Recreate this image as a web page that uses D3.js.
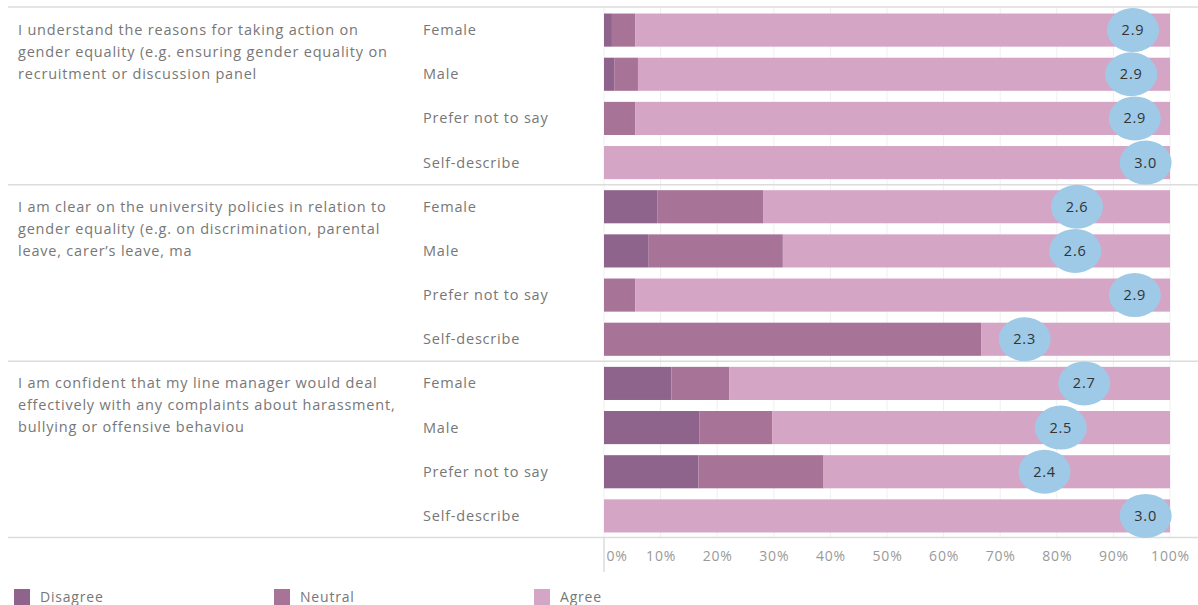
<!DOCTYPE html>
<html>
<head>
<meta charset="utf-8">
<script src="https://cdn.jsdelivr.net/npm/d3@7"></script>
<style>
  body { margin: 0; background: #fff; }
  text { font-family: "Open Sans", sans-serif; letter-spacing: 0.8px; }
</style>
</head>
<body>
<div id="chart"></div>
<script>
// questions (wrapped as in the reference)
const questions = [
  ["I understand the reasons for taking action on", "gender equality (e.g. ensuring gender equality on", "recruitment or discussion panel"],
  ["I am clear on the university policies in relation to", "gender equality (e.g. on discrimination, parental", "leave, carer\u2019s leave, ma"],
  ["I am confident that my line manager would deal", "effectively with any complaints about harassment,", "bullying or offensive behaviou"]
];
const genders = ["Female", "Male", "Prefer not to say", "Self-describe"];
const responses = ["Disagree", "Neutral", "Agree"];

// percent shares, one entry per question x gender row
const disagree = [1.4, 1.8, 0, 0,   9.4, 7.9, 0, 0,     11.9, 16.9, 16.7, 0];
const neutral  = [4.1, 4.2, 5.5, 0, 18.7, 23.7, 5.5, 66.7, 10.2, 12.8, 22.1, 0];
const agree    = [94.5, 94.0, 94.5, 100, 71.9, 68.4, 94.5, 33.3, 77.9, 70.3, 61.2, 100];
// average score per row (1 = disagree .. 3 = agree)
const scores   = [2.93, 2.92, 2.94, 3.0, 2.62, 2.61, 2.94, 2.33, 2.66, 2.53, 2.44, 3.0];

const xTicks = [0, 10, 20, 30, 40, 50, 60, 70, 80, 90, 100];

const colors = { Disagree: "#8f648c", Neutral: "#a77397", Agree: "#d5a5c6" };

const width = 1198, height = 605;
const svg = d3.select("#chart").append("svg")
  .attr("width", width).attr("height", height);

const plotTop = 8, plotBottom = 538, barLeft = 604, barRight = 1170;

const rows = [];
questions.forEach((q, qi) => genders.forEach((g, gi) => {
  const i = qi * genders.length + gi;
  rows.push({ key: qi + "-" + g, q: qi, gender: g,
    Disagree: disagree[i], Neutral: neutral[i], Agree: agree[i], score: scores[i] });
}));

const y = d3.scaleBand().domain(rows.map(d => d.key))
  .range([plotTop, plotBottom]).paddingInner(0.25).paddingOuter(0.125);
const x = d3.scaleLinear().domain([0, 100]).range([barLeft, barRight]);
// score bubbles sit on their own scale across the same width
const xs = d3.scaleLinear().domain([0, 3.135]).range([barLeft, barRight]);

// vertical gridlines
svg.append("g").selectAll("line").data(xTicks).join("line")
  .attr("x1", d => x(d)).attr("x2", d => x(d))
  .attr("y1", plotTop).attr("y2", plotBottom)
  .attr("stroke", "#efefef").attr("stroke-width", 1);

// stacked bars
const stack = d3.stack().keys(responses)(rows);
svg.append("g").selectAll("g").data(stack).join("g")
  .attr("fill", s => colors[s.key])
  .selectAll("rect").data(s => s).join("rect")
  .attr("x", d => x(d[0]))
  .attr("width", d => Math.max(0, x(d[1]) - x(d[0])))
  .attr("y", d => y(d.data.key))
  .attr("height", y.bandwidth());

// group separators
const step = y.step();
const seps = [plotTop - 1];
questions.forEach((q, qi) => {
  const last = rows[qi * genders.length + genders.length - 1].key;
  seps.push(y(last) + y.bandwidth() + (qi < questions.length - 1 ? (step - y.bandwidth()) / 2 : 5));
});
svg.append("g").selectAll("line").data(seps).join("line")
  .attr("x1", 8).attr("x2", width)
  .attr("y1", d => d).attr("y2", d => d)
  .attr("stroke", "#dcdcdc").attr("stroke-width", 1.5);

// score bubbles
const bub = svg.append("g").selectAll("g").data(rows).join("g")
  .attr("transform", d => `translate(${xs(d.score)},${y(d.key) + y.bandwidth() / 2})`);
bub.append("ellipse").attr("rx", 26).attr("ry", 22).attr("fill", "#9ecae8");
bub.append("text").attr("text-anchor", "middle").attr("dy", "0.35em")
  .attr("font-size", 14.5).attr("fill", "#333")
  .text(d => d.score.toFixed(1));

// row labels
svg.append("g").selectAll("text").data(rows).join("text")
  .attr("x", 423).attr("y", d => y(d.key) + y.bandwidth() / 2)
  .attr("dy", "0.35em").attr("font-size", 14.5).attr("fill", "#777")
  .text(d => d.gender);

// question labels
const qg = svg.append("g").selectAll("text").data(questions).join("text")
  .attr("x", 18)
  .attr("y", (q, qi) => y(rows[qi * genders.length].key) + y.bandwidth() / 2)
  .attr("font-size", 14.5).attr("fill", "#777");
qg.selectAll("tspan").data(q => q).join("tspan")
  .attr("x", 18).attr("dy", (d, i) => i === 0 ? "0.35em" : "22px")
  .text(d => d);

// x axis
const axis = svg.append("g").attr("transform", `translate(0,${plotBottom})`)
  .call(d3.axisBottom(x).tickValues(xTicks).tickFormat(d => d + "%").tickSize(0).tickPadding(13));
axis.select(".domain").remove();
axis.selectAll("text").attr("font-size", 14).attr("fill", "#999")
  .attr("font-family", "'Open Sans', sans-serif")
  .attr("text-anchor", d => d === 0 ? "start" : "middle")
  .attr("dx", d => d === 0 ? 2 : 0);
svg.append("line").attr("x1", barLeft).attr("x2", barLeft)
  .attr("y1", plotBottom).attr("y2", plotBottom + 34)
  .attr("stroke", "#dcdcdc").attr("stroke-width", 1.5);

// legend
const leg = svg.append("g").selectAll("g").data(responses).join("g")
  .attr("transform", (d, i) => `translate(${14 + i * 260},589)`);
leg.append("rect").attr("width", 16).attr("height", 16).attr("fill", d => colors[d]);
leg.append("text").attr("x", 26).attr("y", 8).attr("dy", "0.35em")
  .attr("font-size", 14).attr("fill", "#777").text(d => d);
</script>
</body>
</html>
